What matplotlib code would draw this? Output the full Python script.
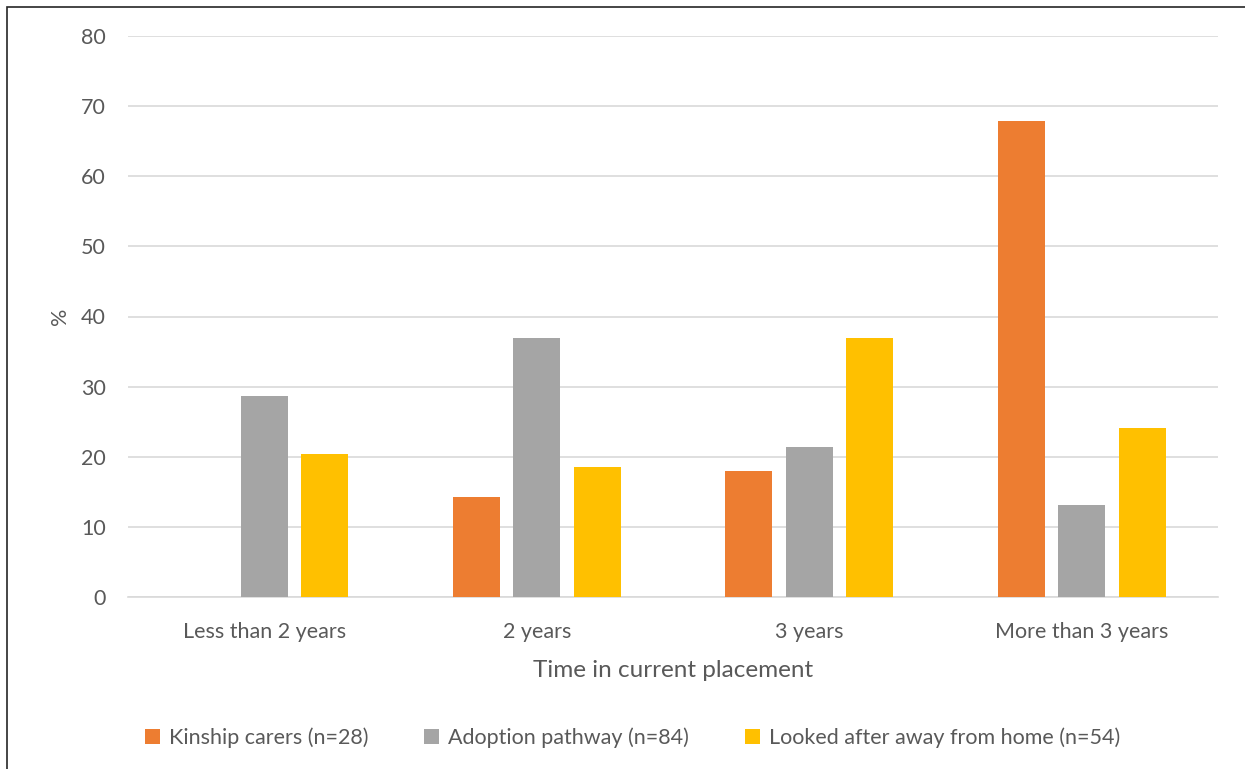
import numpy as np
import matplotlib.pyplot as plt
from matplotlib.patches import Rectangle

categories = ['Less than 2 years', '2 years', '3 years', 'More than 3 years']
kinship = [0, 14.3, 17.9, 67.9]
adoption = [28.6, 36.9, 21.4, 13.1]
looked_after = [20.4, 18.5, 37.0, 24.1]
series_names = ['Kinship carers (n=28)', 'Adoption pathway (n=84)',
                'Looked after away from home (n=54)']
colors = ['#ED7D31', '#A5A5A5', '#FFC000']

txt = '#595959'
plt.rcParams['font.family'] = ['Lato', 'DejaVu Sans']

fig = plt.figure(figsize=(12.45, 7.69), dpi=100)
ax = fig.add_axes([128 / 1245, 1 - 597 / 769, 1090 / 1245, 561 / 769])

x = np.arange(len(categories))
w = 0.172
step = 0.222
for i, (vals, name, c) in enumerate(zip([kinship, adoption, looked_after], series_names, colors)):
    ax.bar(x + (i - 1) * step, vals, w, color=c, label=name, zorder=3)

ax.set_xlim(-0.5, 3.5)
ax.set_ylim(0, 80)
ax.set_yticks(range(0, 81, 10))
ax.set_xticks(x)
ax.set_xticklabels(categories)
ax.grid(axis='y', color='#D9D9D9', linewidth=1.2, zorder=0)
for s in ['top', 'right', 'left']:
    ax.spines[s].set_visible(False)
ax.spines['bottom'].set_color('#D9D9D9')
ax.spines['bottom'].set_linewidth(1.2)
ax.tick_params(axis='both', length=0, labelsize=15.5, colors=txt)
ax.tick_params(axis='y', pad=16)
ax.tick_params(axis='x', pad=18)
ax.set_xlabel('Time in current placement', fontsize=17.5, color=txt, labelpad=13)
ax.set_ylabel('%', fontsize=15.5, color=txt, labelpad=8)

fig.legend(loc='center', bbox_to_anchor=(0.508, 1 - 738 / 769), ncol=3, frameon=False,
           fontsize=15.5, labelcolor=txt, handlelength=0.7, handleheight=0.7,
           handletextpad=0.4, columnspacing=2.6)

# outer frame (top and left edges visible)
fig.patches.append(Rectangle((7 / 1245, -0.1), 1.2, 1 - 7 / 769 + 0.1,
                             transform=fig.transFigure, fill=False,
                             edgecolor='#262626', linewidth=1.2))

fig.savefig('out.png', dpi=100)
